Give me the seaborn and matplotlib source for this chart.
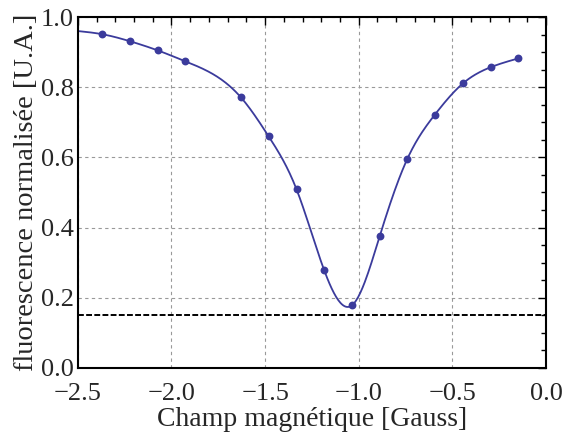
import numpy as np
import pandas as pd
import matplotlib
matplotlib.use('Agg')
import matplotlib.pyplot as plt
import seaborn as sns
from matplotlib.ticker import MultipleLocator

champ = [-2.370, -2.222, -2.074, -1.927, -1.629, -1.481, -1.332, -1.184,
         -1.035, -0.887, -0.741, -0.593, -0.443, -0.295, -0.148]
fluo = [0.951, 0.931, 0.905, 0.874, 0.771, 0.660, 0.509, 0.278,
        0.179, 0.377, 0.595, 0.722, 0.811, 0.857, 0.882]

# where the smooth curve starts on the left edge
curve_start_x = -2.5
curve_start_y = 0.960

# horizontal reference level
seuil = 0.15

blue = '#3b3b9c'


def natural_spline(x, y, n=400):
    # natural cubic spline through the points, only used to draw the smooth line
    x = np.asarray(x, float)
    y = np.asarray(y, float)
    h = np.diff(x)
    m = len(x)
    A = np.zeros((m, m))
    r = np.zeros(m)
    A[0, 0] = A[-1, -1] = 1
    for i in range(1, m - 1):
        A[i, i - 1] = h[i - 1]
        A[i, i] = 2 * (h[i - 1] + h[i])
        A[i, i + 1] = h[i]
        r[i] = 6 * ((y[i + 1] - y[i]) / h[i] - (y[i] - y[i - 1]) / h[i - 1])
    M = np.linalg.solve(A, r)
    xs = np.linspace(x[0], x[-1], n)
    idx = np.clip(np.searchsorted(x, xs) - 1, 0, m - 2)
    x0, x1 = x[idx], x[idx + 1]
    hh = x1 - x0
    t0 = x1 - xs
    t1 = xs - x0
    ys = (M[idx] * t0**3 + M[idx + 1] * t1**3) / (6 * hh) \
        + (y[idx] / hh - M[idx] * hh / 6) * t0 \
        + (y[idx + 1] / hh - M[idx + 1] * hh / 6) * t1
    return xs, ys


sns.set_style('white')
plt.rcParams['font.family'] = ['Liberation Serif', 'DejaVu Serif']

points = pd.DataFrame({'champ': champ, 'fluo': fluo})
cx, cy = natural_spline([curve_start_x] + champ, [curve_start_y] + fluo)
curve = pd.DataFrame({'champ': cx, 'fluo': cy})

fig = plt.figure(figsize=(5.64, 4.36), dpi=100)
ax = fig.add_axes([0.138, 0.156, 0.830, 0.805])

sns.lineplot(data=curve, x='champ', y='fluo', color=blue, lw=1.3, ax=ax, sort=False)
sns.scatterplot(data=points, x='champ', y='fluo', color=blue, s=32,
                linewidth=0, ax=ax, zorder=3)
ax.axhline(seuil, color='black', lw=1.4, ls=(0, (3, 1.2)))

ax.set_xlim(-2.5, 0.0)
ax.set_ylim(0.0, 1.0)
ax.xaxis.set_major_locator(MultipleLocator(0.5))
ax.xaxis.set_minor_locator(MultipleLocator(0.1))
ax.yaxis.set_major_locator(MultipleLocator(0.2))
ax.yaxis.set_minor_locator(MultipleLocator(0.05))
ax.grid(True, which='major', color='#999999', ls=(0, (3, 3)), lw=0.8)
ax.tick_params(which='both', direction='in', top=True, right=True,
               labelsize=19, color='black', width=1)
ax.tick_params(which='major', length=6)
ax.tick_params(which='minor', length=3.5)
ax.tick_params(axis='x', which='major', pad=11)
ax.tick_params(axis='y', which='major', pad=3)
ax.set_xticklabels([f'{v:.1f}'.replace('-', '\u2212') for v in ax.get_xticks()])
ax.set_yticklabels([f'{v:.1f}' for v in ax.get_yticks()])
for s in ax.spines.values():
    s.set_color('black')
    s.set_linewidth(1.5)

ax.set_xlabel('Champ magnétique [Gauss]', fontsize=20, labelpad=1)
ax.set_ylabel('fluorescence normalisée [U.A.]', fontsize=20.5, labelpad=1)

plt.savefig('out.png', dpi=100)
